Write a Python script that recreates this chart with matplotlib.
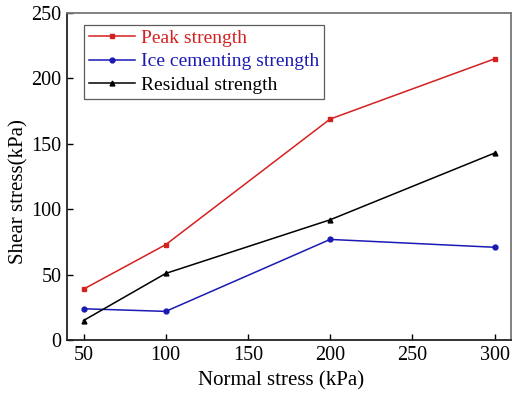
import matplotlib
matplotlib.use("Agg")
import matplotlib.pyplot as plt

plt.rcParams['font.family'] = ['Liberation Serif', 'DejaVu Serif']

normal_stress = [50, 100, 200, 300]
peak_strength = [39, 73, 169, 215]
ice_cementing_strength = [24, 22, 77, 71]
residual_strength = [15, 51, 92, 143]

fig = plt.figure(figsize=(5.12, 3.96), dpi=100)
ax = fig.add_axes([0.131, 0.141, 0.867, 0.826])

ax.plot(normal_stress, peak_strength, color='#d42020', lw=1.1, marker='s', ms=3.5,
        label='Peak strength')
ax.plot(normal_stress, ice_cementing_strength, color='#1a1ab4', lw=1.1, marker='o', ms=3.5,
        label='Ice cementing strength')
ax.plot(normal_stress, residual_strength, color='black', lw=1.1, marker='^', ms=3.5,
        label='Residual strength')

ax.set_xlim(40, 310)
ax.set_ylim(0, 250)
ax.set_xticks([50, 100, 150, 200, 250, 300])
ax.set_yticks([0, 50, 100, 150, 200, 250])
ax.tick_params(direction='in', labelsize=14.5, length=4.5, width=1, top=False, right=False,
               pad=4)
for s in ['left', 'bottom']:
    ax.spines[s].set_linewidth(1.3)
    ax.spines[s].set_color('#222222')
for s in ['top', 'right']:
    ax.spines[s].set_linewidth(1.3)
    ax.spines[s].set_color('#777777')

ax.set_xlabel('Normal stress (kPa)', fontsize=15)
ax.set_ylabel('Shear stress(kPa)', fontsize=15)
ax.xaxis.set_label_coords(0.483, -0.095)
ax.yaxis.set_label_coords(-0.088, 0.455)

leg = ax.legend(loc='upper left', bbox_to_anchor=(0.038, 0.965), fontsize=14,
                frameon=True, fancybox=False, edgecolor='#333333', handlelength=2.4,
                handletextpad=0.3, borderpad=0.25, labelspacing=0.3, borderaxespad=0)
leg.get_frame().set_linewidth(0.9)
for text, line in zip(leg.get_texts(), leg.get_lines()):
    text.set_color(line.get_color())

fig.savefig('out.png', dpi=100)
